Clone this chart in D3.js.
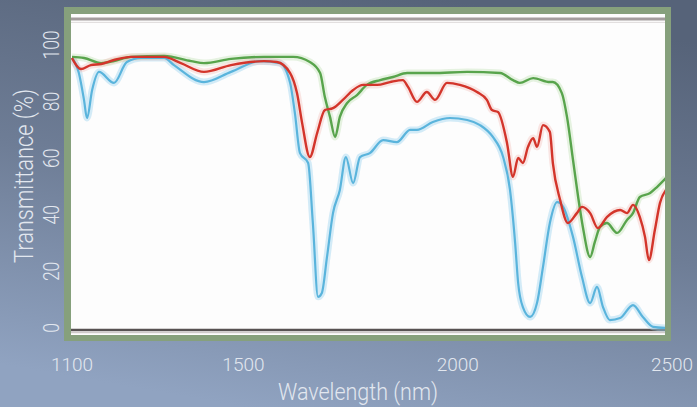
<!DOCTYPE html>
<html>
  <head>
    <meta charset="utf-8">
    <script src="https://d3js.org/d3.v7.min.js"></script>
    <style>
      body { margin: 0; background: #6f7d95; }
      svg { display: block; }
      .lbl { fill: #e2e7ef; font-family: Roboto, "Noto Sans", sans-serif; font-weight: 300; }
    </style>
  </head>
<body>
<script type="text/javascript">

// transmittance spectra, [wavelength nm, transmittance %]
var blueSeries = [
  [1100,95.4],[1116,90.1],[1128,80.6],[1135,74.2],[1147,84.1],[1163,90.5],[1198,86.6],
  [1228,94.0],[1261,95.4],[1315,95.4],[1338,92.9],[1408,86.9],[1471,90.5],[1539,94.3],
  [1585,93.6],[1609,86.6],[1620,76.0],[1632,61.8],[1651,58.3],[1662,37.1],[1674,11.0],
  [1683,12.4],[1695,25.1],[1709,40.6],[1725,48.8],[1739,60.4],[1756,51.2],[1772,60.4],
  [1795,61.8],[1826,66.4],[1858,65.7],[1889,70.0],[1905,70.0],[1942,72.8],[1982,74.2],
  [2022,73.5],[2052,71.7],[2082,67.5],[2106,60.4],[2122,48.8],[2134,30.0],[2141,15.9],
  [2152,7.4],[2169,3.9],[2185,8.8],[2199,21.6],[2215,37.1],[2232,44.5],[2246,42.8],
  [2269,32.2],[2290,18.0],[2309,8.8],[2325,14.5],[2339,7.4],[2355,2.8],[2379,3.5],
  [2409,8.1],[2432,3.9],[2456,0.4],[2486,0.0]
];

var redSeries = [
  [1100,95.4],[1121,91.5],[1144,92.9],[1168,93.3],[1198,94.7],[1238,95.8],[1315,95.8],
  [1354,93.6],[1408,90.5],[1471,92.9],[1548,94.3],[1578,94.0],[1609,90.1],[1625,83.0],
  [1637,72.4],[1655,60.4],[1672,68.9],[1690,77.0],[1709,77.7],[1732,80.6],[1756,84.1],
  [1779,85.9],[1812,85.9],[1842,86.9],[1872,87.6],[1884,85.2],[1905,79.9],[1928,83.4],
  [1947,80.6],[1975,86.6],[2005,85.9],[2045,83.4],[2068,80.6],[2080,77.0],[2094,76.3],
  [2115,65.4],[2129,53.4],[2141,60.1],[2152,58.3],[2164,64.0],[2176,67.1],[2185,64.0],
  [2199,71.7],[2215,69.3],[2222,58.3],[2239,45.2],[2257,37.1],[2278,40.6],[2290,42.8],
  [2309,40.6],[2327,35.3],[2348,39.2],[2379,41.7],[2395,40.6],[2409,43.5],[2425,39.2],
  [2437,32.2],[2446,24.0],[2460,34.6],[2472,44.2],[2486,48.8]
];

var greenSeries = [
  [1100,95.8],[1128,95.4],[1168,93.6],[1198,94.3],[1238,95.8],[1315,96.1],[1378,94.3],
  [1408,93.6],[1471,95.1],[1548,95.8],[1616,95.8],[1655,94.0],[1679,90.1],[1690,81.6],
  [1702,74.6],[1714,67.5],[1725,74.6],[1742,79.5],[1765,82.3],[1788,85.9],[1819,87.6],
  [1849,88.7],[1882,90.1],[1942,90.1],[2022,90.5],[2099,90.1],[2129,87.6],[2145,86.6],
  [2176,88.3],[2215,86.9],[2222,86.9],[2243,83.0],[2255,74.6],[2269,59.4],[2281,46.3],
  [2292,35.7],[2309,25.1],[2320,30.4],[2332,35.7],[2348,37.1],[2372,33.6],[2395,38.2],
  [2409,40.6],[2425,46.3],[2449,47.7],[2465,49.8],[2486,53.0]
];

var xTicks = [1100, 1500, 2000, 2500];
var yTicks = [0, 20, 40, 60, 80, 100];
var xTitle = "Wavelength (nm)";
var yTitle = "Transmittance (%)";

var width = 697, height = 407;

var svg = d3.select("body")
  .append("svg")
  .attr("width", width)
  .attr("height", height);

var defs = svg.append("defs");

var grad = defs.append("linearGradient")
  .attr("id", "bg")
  .attr("x1", "0.65").attr("y1", "0")
  .attr("x2", "0.35").attr("y2", "1");
grad.append("stop").attr("offset", "0").attr("stop-color", "#566379");
grad.append("stop").attr("offset", "0.5").attr("stop-color", "#6e7d96");
grad.append("stop").attr("offset", "1").attr("stop-color", "#90a3c1");

defs.append("clipPath")
  .attr("id", "plotclip")
  .append("rect")
  .attr("x", 71).attr("y", 14)
  .attr("width", 594).attr("height", 321);

svg.append("rect")
  .attr("width", width).attr("height", height)
  .attr("fill", "url(#bg)");

// green frame and white plotting area
svg.append("rect")
  .attr("x", 64).attr("y", 7)
  .attr("width", 607).attr("height", 334)
  .attr("fill", "#86a07c");

svg.append("rect")
  .attr("x", 71).attr("y", 14)
  .attr("width", 594).attr("height", 321)
  .attr("fill", "#fdfdfd");

var x = d3.scaleLinear().domain([1100, 2500]).range([72, 672]);
var y = d3.scaleLinear().domain([0, 100]).range([328, 45]);

var plot = svg.append("g").attr("clip-path", "url(#plotclip)");

// horizontal frame lines of the original instrument plot
plot.append("line")
  .attr("x1", 71).attr("x2", 665)
  .attr("y1", y(109.2)).attr("y2", y(109.2))
  .attr("stroke", "#a39d9d").attr("stroke-width", 3);
plot.append("line")
  .attr("x1", 71).attr("x2", 665)
  .attr("y1", y(108)).attr("y2", y(108))
  .attr("stroke", "#dedada").attr("stroke-width", 1);
plot.append("line")
  .attr("x1", 71).attr("x2", 665)
  .attr("y1", y(-0.7)).attr("y2", y(-0.7))
  .attr("stroke", "#575252").attr("stroke-width", 2.5);
plot.append("line")
  .attr("x1", 71).attr("x2", 665)
  .attr("y1", y(-1.6)).attr("y2", y(-1.6))
  .attr("stroke", "#cfcaca").attr("stroke-width", 1.5);

var line = d3.line()
  .x(function (d) { return x(d[0]); })
  .y(function (d) { return y(d[1]); })
  .curve(d3.curveMonotoneX);

var series = [
  { data: blueSeries, color: "#5ab4dc", halo: "#9fd4ef", haloOp: 0.45, w: 2.2 },
  { data: greenSeries, color: "#58a44c", halo: "#b8dca8", haloOp: 0.35, w: 2.4 },
  { data: redSeries, color: "#d3352b", halo: "#f2b0a8", haloOp: 0.3, w: 2.4 }
];

// soft halo first, then the line itself
series.forEach(function (s) {
  plot.append("path")
    .datum(s.data)
    .attr("d", line)
    .attr("fill", "none")
    .attr("stroke", s.halo)
    .attr("stroke-opacity", s.haloOp)
    .attr("stroke-width", 7)
    .attr("stroke-linejoin", "round");
});
series.forEach(function (s) {
  plot.append("path")
    .datum(s.data)
    .attr("d", line)
    .attr("fill", "none")
    .attr("stroke", s.color)
    .attr("stroke-width", s.w)
    .attr("stroke-linejoin", "round");
});

// x tick labels
svg.selectAll(".xt")
  .data(xTicks)
  .enter()
  .append("text")
  .attr("class", "lbl")
  .attr("x", function (d) { return x(d); })
  .attr("y", 371)
  .attr("text-anchor", "middle")
  .style("font-size", "19px")
  .text(function (d) { return d; });

// y tick labels, rotated
svg.selectAll(".yt")
  .data(yTicks)
  .enter()
  .append("text")
  .attr("class", "lbl")
  .attr("transform", function (d) { return "translate(59," + y(d) + ") rotate(-90)"; })
  .attr("text-anchor", "middle")
  .attr("textLength", function (d) { return String(d).length * 9.7; })
  .attr("lengthAdjust", "spacingAndGlyphs")
  .style("font-size", "22px")
  .text(function (d) { return d; });

svg.append("text")
  .attr("class", "lbl")
  .attr("x", 358).attr("y", 400)
  .attr("text-anchor", "middle")
  .attr("textLength", 160)
  .attr("lengthAdjust", "spacingAndGlyphs")
  .style("font-size", "24px")
  .text(xTitle);

svg.append("text")
  .attr("class", "lbl")
  .attr("transform", "translate(33,176) rotate(-90)")
  .attr("text-anchor", "middle")
  .attr("textLength", 174)
  .attr("lengthAdjust", "spacingAndGlyphs")
  .style("font-size", "26px")
  .text(yTitle);

</script>
</body>
</html>
